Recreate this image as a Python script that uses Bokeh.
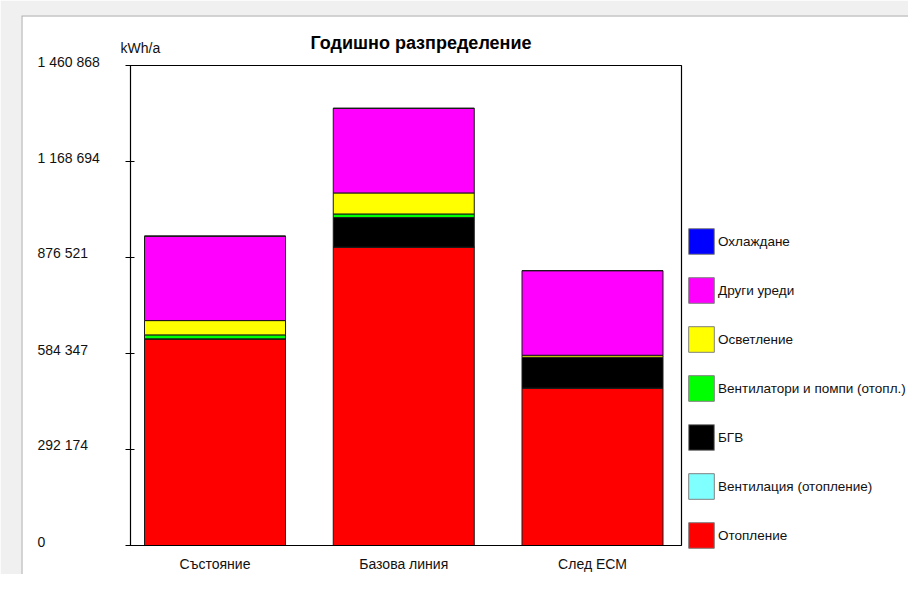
import numpy as np
from bokeh.plotting import figure
from bokeh.models import (Legend, LegendItem, FixedTicker, ColumnDataSource,
                          BoxAnnotation, Range1d)
from bokeh.core.properties import value
from bokeh.embed import file_html
from bokeh.resources import INLINE

# ---------------- data ----------------
categories = ["Състояние", "Базова линия", "След ЕСМ"]
series_names = ["Отопление", "Вентилация (отопление)", "БГВ",
                "Вентилатори и помпи (отопл.)", "Осветление", "Други уреди", "Охлаждане"]
heating = [629000, 908000, 479000]
ventilation = [0, 0, 0]
dhw = [0, 90000, 94000]
fans_pumps = [12000, 11000, 0]
lighting = [43500, 64000, 6000]
other = [257000, 257500, 257500]
cooling = [0, 0, 0]
series_values = [heating, ventilation, dhw, fans_pumps, lighting, other, cooling]
series_colors = ["#ff0000", "#80ffff", "#000000", "#00ff00", "#ffff00", "#ff00ff", "#0000ff"]
y_ticks = [0, 292174, 584347, 876521, 1168694, 1460868]
y_tick_labels = ["0", "292 174", "584 347", "876 521", "1 168 694", "1 460 868"]
title_text = "Годишно разпределение"
unit_text = "kWh/a"

# ---------------- layout (reference pixel geometry) ----------------
W, H = 908, 574
BOX_L, BOX_R, BOX_T, BOX_B = 130, 681, 65, 545   # plot box in pixels
X0, X1 = 0.5523, 3.4715                          # x data at box left / right
Y0, Y1 = 0, 1460868                              # y data at box bottom / top
FRAME_L, FRAME_T = 21, 15                        # inner white panel edges
FONT = "Liberation Sans"


def rx(px):
    return X0 + (px - BOX_L) * (X1 - X0) / (BOX_R - BOX_L)


def ry(py):
    return Y1 - (py - BOX_T) * (Y1 - Y0) / (BOX_B - BOX_T)


p = figure(width=W, height=H, output_backend="svg", toolbar_location=None,
           x_axis_location=None,
           x_range=Range1d(rx(FRAME_L), rx(W)),
           y_range=Range1d(ry(H), ry(FRAME_T)),
           min_border_left=FRAME_L, min_border_right=0,
           min_border_top=FRAME_T, min_border_bottom=0)
p.xgrid.visible = False
p.ygrid.visible = False
p.outline_line_color = None
p.background_fill_color = "white"
p.border_fill_color = "#f0f0f0"

# window edge lines
p.add_layout(BoxAnnotation(left=rx(FRAME_L), right=rx(2000), bottom=ry(2000), top=ry(FRAME_T),
                           fill_alpha=0, line_color="#a8a8a8", line_alpha=1, line_width=2))

xs = [i + 1 for i in range(len(categories))]
data = {"x": xs}
for name, vals in zip(series_names, series_values):
    data[name] = vals
src = ColumnDataSource(data)
p.vbar_stack(series_names, x="x", width=0.747, source=src,
             fill_color=series_colors, line_color="#1a1a1a", line_width=1)

# plot box
p.add_layout(BoxAnnotation(left=X0, right=X1, bottom=Y0, top=Y1, fill_alpha=0,
                           line_color="#000000", line_alpha=1, line_width=1.2,
                           level="overlay"))

# y axis pinned at the box left edge
yax = p.yaxis[0]
yax.fixed_location = X0
yax.bounds = (Y0, Y1)
yax.ticker = FixedTicker(ticks=y_ticks)
yax.major_tick_in = 4
yax.major_tick_out = 5
yax.minor_tick_line_color = None
yax.axis_line_color = "#000000"
yax.major_tick_line_color = "#000000"
yax.major_label_text_font_size = "1px"
yax.major_label_text_color = None
yax.major_label_standoff = 0

# tick labels (left aligned)
p.text(x=rx(37), y=y_ticks, text=y_tick_labels, text_align="left", text_baseline="middle",
       y_offset=-4, text_font=value(FONT), text_font_size="14px", text_color="#111111")

# category labels
p.text(x=xs, y=ry(563), text=categories, text_align="center", text_baseline="middle",
       text_font=value(FONT), text_font_size="14px", text_color="#111111")

# title and unit
p.text(x=[rx(420.5)], y=[ry(42)], text=[title_text], text_align="center",
       text_baseline="middle", text_font=value(FONT), text_font_size="18px",
       text_font_style="bold", text_color="#000000")
p.text(x=[rx(120)], y=[ry(47.5)], text=[unit_text], text_align="left",
       text_baseline="middle", text_font=value(FONT), text_font_size="14px",
       text_color="#111111")

# legend (non-drawn renderers with grey outline, used only for swatches)
items = []
for name, col in zip(series_names, series_colors):
    r = p.vbar(x=[np.nan], top=[np.nan], width=0.5, fill_color=col,
               line_color="#808080", line_width=1)
    items.append(LegendItem(label=name, renderers=[r]))
items = items[::-1]
legend = Legend(items=items, location=(685 - FRAME_L, H - 551), orientation="vertical",
                padding=0, margin=0, spacing=17, glyph_width=32, glyph_height=32,
                label_standoff=1, label_text_font=FONT, label_text_font_size="13.5px",
                label_text_color="#111111", border_line_color=None,
                background_fill_alpha=0)
p.add_layout(legend, "center")

open("out.html", "w").write(file_html(p, INLINE))
